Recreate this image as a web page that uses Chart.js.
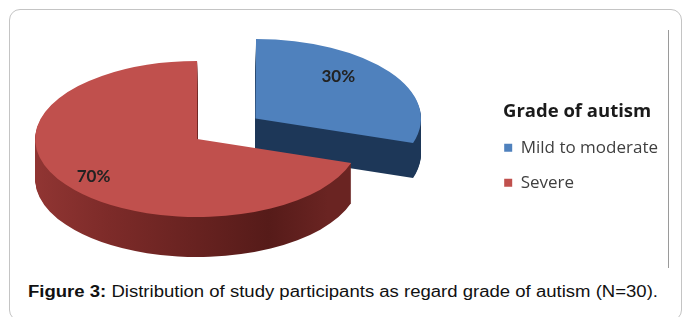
<!DOCTYPE html>
<html><head><meta charset="utf-8">
<script src="https://cdn.jsdelivr.net/npm/chart.js@4.4.1/dist/chart.umd.min.js"></script>
<style>
html,body{margin:0;padding:0;background:#fff;width:683px;height:317px;overflow:hidden;}
#frame{position:absolute;left:9px;top:9px;width:673px;height:312px;border:1.5px solid #c4c4c4;border-radius:11px;box-sizing:border-box;}
#vline{position:absolute;left:668px;top:30px;width:1px;height:238px;background:#9a9a9a;}
#wrap{position:absolute;left:-92px;top:18px;width:760px;height:242px;}
#caption{position:absolute;left:28px;top:283px;white-space:nowrap;font-family:'Liberation Sans',Arial,sans-serif;font-size:16px;line-height:18px;color:#111;transform-origin:0 0;}
#caption b{font-weight:bold;}
</style></head>
<body>
<div id="frame"></div>
<div id="vline"></div>
<div id="wrap"><canvas id="c"></canvas></div>
<div id="caption"><b>Figure 3:</b> Distribution of study participants as regard grade of autism (N=30).</div>
<script>
// ---- data ----
const categories = ['Mild to moderate', 'Severe'];
const values = [30, 70];
const percentLabels = ['30%', '70%'];
const legendTitle = 'Grade of autism';

// ---- styles ----
const topColors = ['#4f81bd', '#c0504d'];
const sideStops = [
  [[0, '#1d3758'], [1, '#1d3758']],
  [[0, '#ad4441'], [0.45, '#7d2b29'], [0.85, '#561b19'], [1, '#6a2422']]
];
const RX = 162, RY = 78;
const DEPTHS = [35, 40];
const LABEL_FX = [0.61, 0.79], LABEL_FY = [0.9, 0.81];

function geom(el) {
  const sx = RX / el.outerRadius, sy = RY / el.outerRadius;
  return {sx, sy, cx: el.x, cy: el.y};
}
function applyT(ctx, g) {
  ctx.translate(g.cx, g.cy);
  ctx.scale(g.sx, g.sy);
  ctx.translate(-g.cx, -g.cy);
}

const pie3d = {
  id: 'pie3d',
  beforeDatasetsDraw(chart) {
    const ctx = chart.ctx;
    const meta = chart.getDatasetMeta(0);
    const els = meta.data;
    const g = geom(els[0]);
    els.forEach((el, i) => {
      const x0 = g.cx + (20 - g.cx) / g.sx, x1 = g.cx + (420 - g.cx) / g.sx;
      for (let d = DEPTHS[i]; d >= 1; d--) {
        ctx.save();
        ctx.translate(0, d);
        applyT(ctx, g);
        const grad = ctx.createLinearGradient(x0, 0, x1, 0);
        sideStops[i].forEach(s => grad.addColorStop(s[0], s[1]));
        const orig = el.options;
        el.options = Object.assign({}, orig, {backgroundColor: grad, borderWidth: 0});
        el.draw(ctx);
        el.options = orig;
        ctx.restore();
      }
    });
    ctx.save();
    applyT(ctx, g);
  },
  afterDatasetsDraw(chart) {
    const ctx = chart.ctx;
    ctx.restore();
    const meta = chart.getDatasetMeta(0);
    const els = meta.data;
    const g = geom(els[0]);
    ctx.save();
    ctx.font = 'bold 17px Lato, sans-serif';
    ctx.fillStyle = '#222';
    ctx.textAlign = 'center';
    ctx.textBaseline = 'middle';
    els.forEach((el, i) => {
      const mid = (el.startAngle + el.endAngle) / 2;
      const off = (el.options.offset || 0) / 4;
      const fix = 1 - Math.sin(Math.min(Math.PI, el.circumference));
      const disp = off + off * fix;
      const ux = el.x + Math.cos(mid) * (disp + el.outerRadius * LABEL_FX[i]);
      const uy = el.y + Math.sin(mid) * (disp + el.outerRadius * LABEL_FY[i]);
      const X = g.cx + g.sx * (ux - g.cx);
      const Y = g.cy + g.sy * (uy - g.cy);
      ctx.fillText(percentLabels[i], X, Y);
    });
    ctx.restore();
  }
};

new Chart(document.getElementById('c'), {
  type: 'pie',
  data: {
    labels: categories,
    datasets: [{
      data: values,
      backgroundColor: topColors,
      borderWidth: 0,
      offset: [114, 0],
      clip: false
    }]
  },
  options: {
    responsive: true,
    maintainAspectRatio: false,
    animation: false,
    events: [],
    layout: {padding: 0},
    plugins: {
      tooltip: {enabled: false},
      legend: {
        position: 'right',
        align: 'start',
        title: {
          display: true,
          text: legendTitle,
          position: 'center',
          color: '#1a1a1a',
          font: {family: 'Open Sans', size: 18.5, weight: 'bold'},
          padding: {top: 84, bottom: -3}
        },
        labels: {
          boxWidth: 8,
          boxHeight: 8,
          padding: 18,
          color: '#3f3f3f',
          font: {family: 'Open Sans', size: 17}
        }
      }
    }
  },
  plugins: [pie3d]
});

(function(){
  const cap = document.getElementById('caption');
  const w = cap.getBoundingClientRect().width;
  cap.style.transform = 'scaleX(' + (630 / w) + ')';
})();
</script>
</body></html>
